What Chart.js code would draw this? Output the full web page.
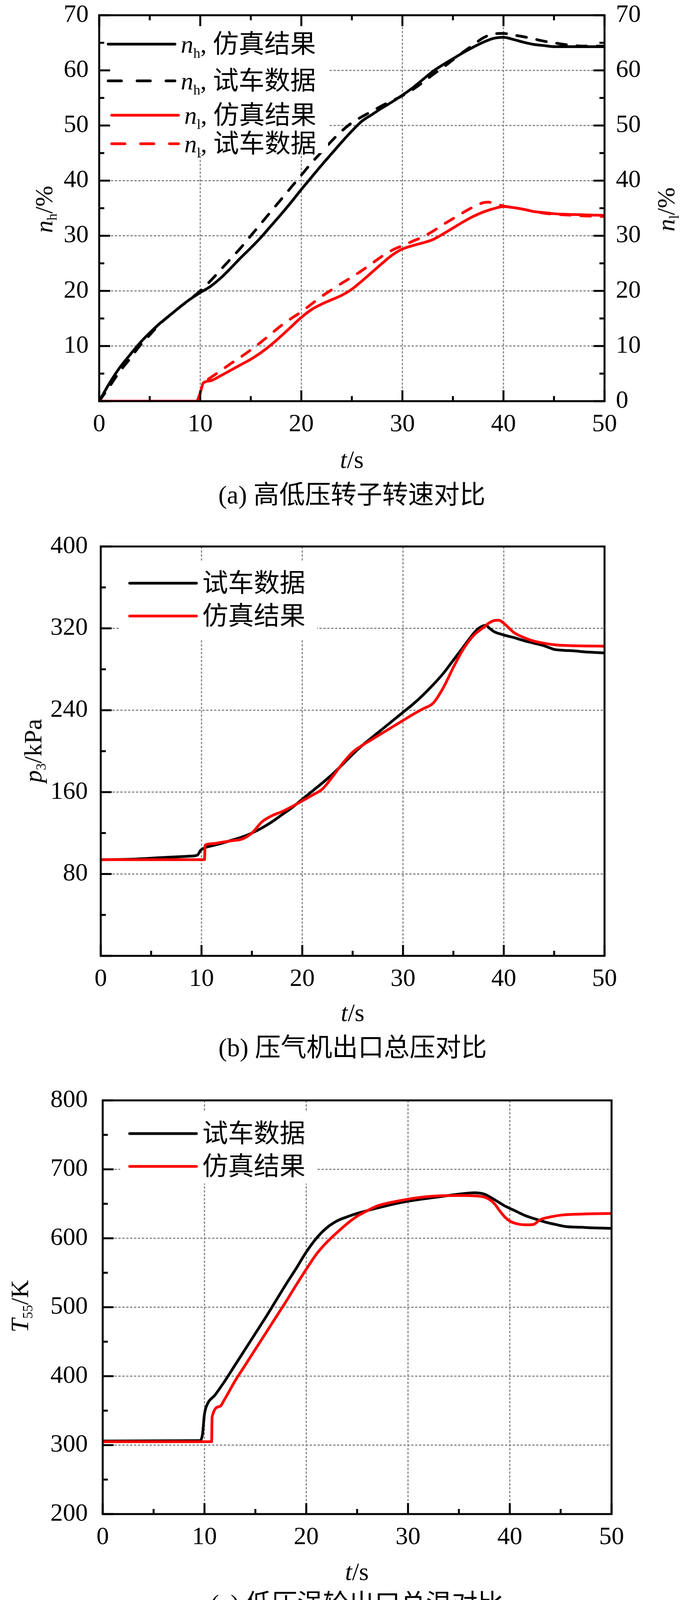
<!DOCTYPE html>
<html>
<head>
<meta charset="utf-8">
<title>转速、总压、总温对比</title>
<script src="https://cdn.jsdelivr.net/npm/chart.js@4.4.1/dist/chart.umd.min.js"></script>
<style>
  html, body { margin: 0; padding: 0; background: #fff; overflow: hidden; }
  #page { position: relative; width: 1772px; height: 4146px; overflow: hidden;
          font-family: "Liberation Serif", "Times New Roman", serif; color: #000; }
  .plot { position: absolute; left: 0; width: 1772px; }
  .plot canvas { display: block; }
  .txt { position: absolute; white-space: nowrap; font-size: 64px; line-height: 1;
         transform: translate(-50%, -50%); }
  .rot { transform: translate(-50%, -50%) rotate(-90deg); }
  .cjk { font-family: "Noto Sans CJK SC", sans-serif; font-size: 66px; }
  sub { font-size: 0.55em; vertical-align: baseline; position: relative; top: 0.3em; }
</style>
</head>
<body>
<div id="page">
  <div class="plot" style="top:0px;height:1130px"><canvas id="chartA" width="1772" height="1130"></canvas></div>
  <div class="plot" style="top:1339px;height:1211px"><canvas id="chartB" width="1772" height="1211"></canvas></div>
  <div class="plot" style="top:2757px;height:1222px"><canvas id="chartC" width="1772" height="1222"></canvas></div>

  <div class="txt rot" style="left:113px;top:536px"><i>n</i><sub>h</sub>/%</div>
  <div class="txt rot" style="left:1706px;top:536px"><i>n</i><sub>l</sub>/%</div>
  <div class="txt" style="left:901px;top:1177px"><i>t</i>/s</div>
  <div class="txt" style="left:901px;top:1263px;font-size:66px">(a) <span class="cjk">高低压转子转速对比</span></div>

  <div class="txt rot" style="left:85px;top:1922px"><i>p</i><sub>3</sub>/kPa</div>
  <div class="txt" style="left:903px;top:2593px"><i>t</i>/s</div>
  <div class="txt" style="left:903px;top:2678px;font-size:66px">(b) <span class="cjk">压气机出口总压对比</span></div>

  <div class="txt rot" style="left:51px;top:3344px"><i>T</i><sub>55</sub>/K</div>
  <div class="txt" style="left:914px;top:4024px"><i>t</i>/s</div>
  <div class="txt" style="left:914px;top:4102px;font-size:66px">(c) <span class="cjk">低压涡轮出口总温对比</span></div>
</div>

<script>
// ---- (a) rotor speeds ----
const tNhSim = [0, 1, 2, 3, 4, 5, 6, 7, 8, 9, 10, 11, 12, 13, 14, 15, 16, 17, 18, 19, 20, 21, 22, 23, 24, 25, 26, 27, 28, 29, 30, 31, 32, 33, 34, 35, 36, 37, 38, 39, 40, 41, 42, 43, 44, 45, 46, 48, 50];
const nhSim = [0, 3.2, 6.0, 8.3, 10.5, 12.4, 14.1, 15.6, 17.1, 18.5, 19.7, 20.8, 22.3, 24.1, 26.0, 27.8, 29.7, 31.8, 33.9, 36.1, 38.4, 40.6, 42.8, 44.9, 47.0, 49.0, 50.8, 52.0, 53.2, 54.3, 55.5, 56.8, 58.3, 59.8, 61.0, 62.1, 63.2, 64.2, 65.1, 65.8, 66.0, 65.6, 65.1, 64.7, 64.5, 64.3, 64.3, 64.3, 64.3];
const tNhTest = [0, 1, 2, 3, 4, 5, 6, 7, 8, 9, 10, 11, 12, 13, 14, 15, 16, 17, 18, 19, 20, 21, 22, 23, 24, 25, 26, 27, 28, 29, 30, 31, 32, 33, 34, 35, 36, 37, 38, 39, 40, 41, 42, 43, 44, 45, 46, 47, 48, 50];
const nhTest = [0, 2.6, 5.3, 7.6, 10.0, 12.0, 14.0, 15.6, 17.1, 18.5, 20.0, 21.8, 23.8, 25.8, 27.8, 30.0, 32.2, 34.4, 36.6, 38.8, 41.0, 43.2, 45.2, 47.2, 49.0, 50.5, 51.6, 52.6, 53.6, 54.5, 55.4, 56.5, 57.8, 59.2, 60.5, 61.9, 63.3, 64.6, 65.9, 66.6, 66.7, 66.4, 66.1, 65.7, 65.3, 65.0, 64.7, 64.5, 64.4, 64.4];
const tNlSim = [0, 9.6, 10.0, 10.3, 11, 12, 13, 14, 15, 16, 17, 18, 19, 20, 21, 22, 23, 24, 25, 26, 27, 28, 29, 30, 31, 32, 33, 34, 35, 36, 37, 38, 39, 40, 41, 42, 43, 44, 45, 46, 48, 50];
const nlSim = [0, 0, 1.5, 3.3, 3.7, 4.6, 5.6, 6.6, 7.6, 8.8, 10.2, 11.8, 13.5, 15.2, 16.6, 17.6, 18.4, 19.2, 20.3, 21.8, 23.4, 25.0, 26.5, 27.6, 28.2, 28.7, 29.3, 30.3, 31.4, 32.5, 33.5, 34.3, 34.9, 35.3, 35.1, 34.8, 34.4, 34.2, 34.0, 33.9, 33.8, 33.7];
const tNlTest = [10.8, 12, 13, 14, 15, 16, 17, 18, 19, 20, 21, 22, 23, 24, 25, 26, 27, 28, 29, 30, 31, 32, 33, 34, 35, 36, 37, 38, 38.5, 39, 40, 41, 42, 43, 44, 45, 46, 48, 50];
const nlTest = [4.0, 5.5, 6.8, 8.0, 9.3, 10.7, 12.2, 13.7, 15.0, 16.2, 17.6, 19.0, 20.2, 21.4, 22.5, 23.7, 25.0, 26.3, 27.4, 28.2, 29.0, 29.8, 30.8, 32.0, 33.1, 34.2, 35.2, 36.0, 36.1, 35.9, 35.4, 35.1, 34.8, 34.4, 34.1, 33.9, 33.8, 33.6, 33.5];

// ---- (b) compressor exit total pressure ----
const tP3Test = [0, 3, 6, 9, 9.6, 9.9, 10.3, 11, 12, 13, 14, 15, 16, 17, 18, 19, 20, 21, 22, 23, 24, 25, 26, 27, 28, 29, 30, 31, 32, 33, 34, 35, 36, 37, 37.5, 38.2, 38.6, 39, 40, 41, 42, 43, 44, 45, 46, 47, 48, 49, 50];
const p3Test = [94, 94.5, 96, 97.5, 98.5, 103, 105.5, 107.5, 110, 113, 116, 120, 125, 131, 138, 145, 153, 161, 169, 177.5, 187, 197, 206, 214, 222, 230, 238, 246, 255, 265, 276, 289, 302, 315, 320, 323, 320, 317, 313.5, 311, 308, 305.5, 303, 299.5, 298.5, 298, 297, 296.5, 296];
const tP3Sim = [0, 10.3, 10.35, 11, 12, 13, 14, 15, 16, 17, 18, 19, 20, 21, 22, 23, 24, 25, 26, 27, 28, 29, 30, 31, 32, 33, 34, 35, 36, 37, 38, 38.5, 39, 39.5, 40, 40.5, 41, 42, 43, 44, 45, 46, 48, 50];
const p3Sim = [94, 94, 108, 109.5, 111, 112.5, 114, 120, 131, 137, 141, 146, 151.5, 157, 163, 175, 188, 199, 206, 212, 218, 224, 230, 236, 241.5, 247, 262, 282, 300, 313, 321, 325, 327.5, 328, 325, 320.5, 316, 311, 307.5, 305.5, 304, 303.3, 302.8, 302.6];

// ---- (c) LP turbine exit total temperature ----
const tT55Test = [0, 9.5, 9.8, 10.0, 10.3, 11, 12, 13, 14, 15, 16, 17, 18, 19, 20, 21, 22, 23, 24, 25, 27, 29, 31, 33, 35, 36.5, 37.5, 38.5, 39.5, 40.5, 41.5, 42.5, 43.5, 44.5, 45.5, 47, 48.5, 50];
const t55Test = [306, 306.5, 315, 345, 360, 372, 393, 416, 439, 462, 485, 509, 533, 556, 580, 600, 615, 625, 631, 636, 644, 651, 656, 660, 664, 666, 664, 656, 647, 640, 633, 628, 623.5, 620, 617, 616, 615, 614.5];
const tT55Sim = [0, 10.7, 10.75, 11.5, 12, 13, 14, 15, 16, 17, 18, 19, 20, 21, 22, 23, 24, 25, 26, 27, 29, 31, 33, 35, 37, 37.8, 38.5, 39, 39.5, 40, 40.7, 41.5, 42.3, 43, 44, 45, 46, 48, 50];
const t55Sim = [305, 305, 341, 356, 367, 393, 416, 439, 462, 485, 508, 532, 555, 577, 594, 608, 621, 632, 640, 647, 654, 659, 661.5, 662, 661, 658, 650, 640, 631, 625, 621, 619.5, 620, 627, 631, 633.5, 634.5, 635.5, 636];

const xTicks = { min: 0, max: 50, step: 10 };
const yTicksA = { min: 0, max: 70, step: 10 };
const yTicksB = { min: 0, max: 400, step: 80 };
const yTicksC = { min: 200, max: 800, step: 100 };

const labelSim = '仿真结果';
const labelTest = '试车数据';

const SERIF = '"Liberation Serif", "Times New Roman", serif';
const CJK = '"Noto Sans CJK SC", sans-serif';

function pts(xs, ys) { return xs.map((x, i) => ({ x: x, y: ys[i] })); }

function line(ctx, x1, y1, x2, y2) {
  ctx.beginPath(); ctx.moveTo(x1, y1); ctx.lineTo(x2, y2); ctx.stroke();
}

// dotted grid, inward ticks and the closed frame
function makeFrame(sides) {
  return {
    id: 'frame',
    beforeDatasetsDraw(chart) {
      const { ctx, chartArea: a, scales } = chart;
      const xs = scales.x, ys = scales.y;
      ctx.save();
      ctx.strokeStyle = '#888';
      ctx.lineWidth = 3;
      ctx.setLineDash([6, 4]);
      xs.ticks.forEach(t => {
        if (t.value <= xs.min || t.value >= xs.max) return;
        const px = xs.getPixelForValue(t.value);
        line(ctx, px, a.top, px, a.bottom);
      });
      ys.ticks.forEach(t => {
        if (t.value <= ys.min || t.value >= ys.max) return;
        const py = ys.getPixelForValue(t.value);
        line(ctx, a.left, py, a.right, py);
      });
      ctx.restore();
    },
    afterDraw(chart) {
      const { ctx, chartArea: a, scales } = chart;
      const xs = scales.x, ys = scales.y;
      const major = 28, minor = 13;
      const vals = s => {
        const m = s.ticks.map(t => t.value);
        const mi = [];
        for (let i = 0; i < m.length - 1; i++) mi.push((m[i] + m[i + 1]) / 2);
        return { m, mi };
      };
      const vx = vals(xs), vy = vals(ys);
      ctx.save();
      ctx.strokeStyle = '#000';
      ctx.lineWidth = 5;
      ctx.lineCap = 'butt';
      const mark = (v, len, s) => {
        if (s === 'left' || s === 'right') {
          const py = ys.getPixelForValue(v);
          if (s === 'left') line(ctx, a.left, py, a.left + len, py);
          else line(ctx, a.right, py, a.right - len, py);
        } else {
          const px = xs.getPixelForValue(v);
          if (s === 'bottom') line(ctx, px, a.bottom, px, a.bottom - len);
          else line(ctx, px, a.top, px, a.top + len);
        }
      };
      sides.forEach(s => {
        const v = (s === 'left' || s === 'right') ? vy : vx;
        v.m.forEach(val => mark(val, major, s));
        v.mi.forEach(val => mark(val, minor, s));
      });
      ctx.lineJoin = 'miter';
      ctx.strokeRect(a.left, a.top, a.right - a.left, a.bottom - a.top);
      ctx.restore();
    }
  };
}

// legend drawn inside the plot, with italic symbols and subscripts
function makeLegend(cfg) {
  return {
    id: 'inLegend',
    afterDatasetsDraw(chart) {
      const ctx = chart.ctx;
      const b = cfg.box;
      ctx.save();
      ctx.fillStyle = '#fff';
      ctx.fillRect(b[0], b[1], b[2] - b[0], b[3] - b[1]);
      cfg.items.forEach((it, i) => {
        const ds = chart.data.datasets[it.dataset];
        const y = cfg.rows[i];
        const off = it.offset || 0;
        ctx.strokeStyle = ds.borderColor;
        ctx.lineWidth = ds.borderWidth;
        ctx.lineCap = 'round';
        ctx.setLineDash(ds.borderDash ? cfg.dash : []);
        line(ctx, cfg.lineX[0] + off, y, cfg.lineX[1] + off, y);
        ctx.setLineDash([]);
        ctx.fillStyle = '#000';
        ctx.textBaseline = 'alphabetic';
        let x = cfg.textX + off;
        it.parts.forEach(p => {
          ctx.font = p.font;
          ctx.fillText(p.text, x, y + 22 + (p.dy || 0));
          x += ctx.measureText(p.text).width;
        });
      });
      ctx.restore();
    }
  };
}

function symParts(sym, sub, name) {
  return [
    { text: sym, font: 'italic 64px ' + SERIF },
    { text: sub, font: '36px ' + SERIF, dy: 13 },
    { text: ', ', font: '64px ' + SERIF },
    { text: name, font: '66px ' + CJK }
  ];
}

function xScale() {
  return {
    type: 'linear', min: xTicks.min, max: xTicks.max,
    grid: { display: false, drawTicks: false }, border: { display: false },
    ticks: { stepSize: xTicks.step, color: '#000', padding: 22, maxRotation: 0, autoSkip: false,
             font: { family: SERIF, size: 64 } },
    afterFit(s) { s.height = 103; s.paddingLeft = 0; s.paddingRight = 0; }
  };
}

function yScale(t, width, pad, pos, hideMin) {
  return {
    type: 'linear', position: pos, min: t.min, max: t.max,
    grid: { display: false, drawTicks: false }, border: { display: false },
    ticks: { stepSize: t.step, color: '#000', padding: pad, autoSkip: false,
             font: { family: SERIF, size: 64 },
             callback: v => (hideMin && v === t.min) ? '' : v },
    afterFit(s) { s.width = width; s.paddingTop = 0; s.paddingBottom = 0; }
  };
}

function lineSet(label, xs, ys, color, dashed, order, axis) {
  const d = {
    label: label, data: pts(xs, ys), borderColor: color, borderWidth: 7,
    pointRadius: 0, fill: false, cubicInterpolationMode: 'monotone',
    borderCapStyle: 'round', borderJoinStyle: 'round', order: order
  };
  if (dashed) d.borderDash = [25, 27];
  if (axis) d.yAxisID = axis;
  return d;
}

const common = {
  responsive: false, animation: false, devicePixelRatio: 1,
  plugins: { legend: { display: false }, tooltip: { enabled: false } }
};

new Chart(document.getElementById('chartA'), {
  type: 'line',
  data: {
    datasets: [
      lineSet('nh, ' + labelSim, tNhSim, nhSim, '#000', false, 3, 'y'),
      lineSet('nh, ' + labelTest, tNhTest, nhTest, '#000', true, 2, 'y'),
      lineSet('nl, ' + labelSim, tNlSim, nlSim, '#f00', false, 1, 'y2'),
      lineSet('nl, ' + labelTest, tNlTest, nlTest, '#f00', true, 0, 'y2')
    ]
  },
  options: Object.assign({}, common, {
    layout: { padding: { top: 39, left: 0, right: 0, bottom: 0 } },
    scales: {
      x: xScale(),
      y: yScale(yTicksA, 254, 27, 'left', true),
      y2: yScale(yTicksA, 224, 29, 'right', false)
    }
  }),
  plugins: [
    makeFrame(['left', 'bottom', 'top', 'right']),
    makeLegend({
      box: [262, 44, 840, 392], rows: [113, 207, 295, 368],
      lineX: [277, 448], textX: 463, dash: [34, 40],
      items: [
        { dataset: 0, parts: symParts('n', 'h', labelSim) },
        { dataset: 1, parts: symParts('n', 'h', labelTest) },
        { dataset: 2, parts: symParts('n', 'l', labelSim), offset: 9 },
        { dataset: 3, parts: symParts('n', 'l', labelTest), offset: 9 }
      ]
    })
  ]
});

function twoLineChart(id, tTest, vTest, tSim, vSim, yt, leftW, pad, topPad, rightPad, box, rows) {
  return new Chart(document.getElementById(id), {
    type: 'line',
    data: {
      datasets: [
        lineSet(labelTest, tTest, vTest, '#000', false, 1),
        lineSet(labelSim, tSim, vSim, '#f00', false, 0)
      ]
    },
    options: Object.assign({}, common, {
      layout: { padding: { top: topPad, left: 0, right: rightPad, bottom: 0 } },
      scales: {
        x: xScale(),
        y: yScale(yt, leftW, pad, 'left', yt.min === 0)
      }
    }),
    plugins: [
      makeFrame(['left', 'bottom']),
      makeLegend({
        box: box, rows: rows, lineX: [332, 503], textX: 518, dash: [],
        items: [
          { dataset: 0, parts: [{ text: labelTest, font: '66px ' + CJK }] },
          { dataset: 1, parts: [{ text: labelSim, font: '66px ' + CJK }] }
        ]
      })
    ]
  });
}

twoLineChart('chartB', tP3Test, p3Test, tP3Sim, p3Sim, yTicksB, 258, 33, 60, 224,
             [308, 96, 812, 298], [154, 238]);
twoLineChart('chartC', tT55Test, t55Test, tT55Sim, t55Sim, yTicksC, 263, 38, 60, 206,
             [308, 88, 812, 273], [145, 229]);
</script>
</body>
</html>
